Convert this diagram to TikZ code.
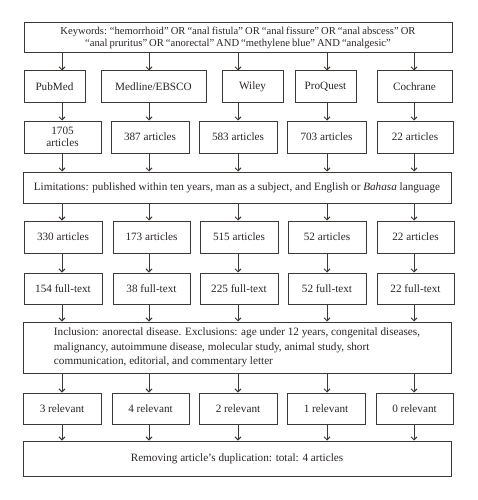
\documentclass[tikz,border=0pt]{standalone}
\usepackage{fontspec}
\setmainfont{Liberation Serif}
\usetikzlibrary{arrows.meta}
\definecolor{ln}{HTML}{3C3836}
\definecolor{tx}{HTML}{2A2625}
\newcommand{\kwfont}{\fontsize{10.6}{12}\selectfont\spaceskip=0.19em plus 0.05em\relax}
\tikzset{
  box/.style={draw=ln, line width=1pt, inner sep=0pt, text=tx, font=\fontsize{11.2}{12.5}\selectfont, align=center},
  arr/.style={draw=ln, line width=1pt, -{Straight Barb[length=3pt,width=6pt]}}
}
\newcommand{\bx}[6]{%
  \node[box, minimum width={(#4-#2)*1pt}, minimum height={(#5-#3)*1pt}] (#1) at ({(#2+#4)/2},{(#3+#5)/2}) {#6};}
\begin{document}
\begin{tikzpicture}[x=1pt,y=-1pt]
\useasboundingbox (0,0) rectangle (478,500);
% row 1
\node[box, font=\kwfont, minimum width=428pt, minimum height=30pt] (kw) at (238,38) {Keywords: “hemorrhoid” OR “anal fistula” OR “anal fissure” OR “anal abscess” OR\\“anal pruritus” OR “anorectal” AND “methylene blue” AND “analgesic”};
% row 2
\bx{db1}{24}{71}{85}{103}{PubMed}
\bx{db2}{101}{71}{206}{103}{Medline/EBSCO}
\bx{db3}{222}{71}{283}{103}{Wiley}
\bx{db4}{295}{71}{356}{103}{ProQuest}
\bx{db5}{377}{71}{452}{103}{Cochrane}
% row 3
\bx{a1}{24}{121}{101}{153}{1705\\articles}
\bx{a2}{111}{121}{189}{153}{387 articles}
\bx{a3}{199}{121}{277}{153}{583 articles}
\bx{a4}{287}{121}{366}{153}{703 articles}
\bx{a5}{377}{121}{453}{153}{22 articles}
% limitations
\bx{lim}{23}{172}{451}{203}{Limitations: published within ten years, man as a subject, and English or \emph{Bahasa} language}
% row 4
\bx{b1}{24}{221}{102}{253}{330 articles}
\bx{b2}{113}{221}{190}{253}{173 articles}
\bx{b3}{200}{221}{278}{253}{515 articles}
\bx{b4}{288}{221}{366}{253}{52 articles}
\bx{b5}{377}{221}{454}{253}{22 articles}
% row 5
\bx{c1}{24}{273}{102}{304}{154 full-text}
\bx{c2}{113}{273}{190}{304}{38 full-text}
\bx{c3}{200}{273}{278}{304}{225 full-text}
\bx{c4}{288}{273}{366}{304}{52 full-text}
\bx{c5}{377}{273}{454}{304}{22 full-text}
% inclusion
\node[box, font=\fontsize{11.2}{14.2}\selectfont, minimum width=428pt, minimum height=51pt, align=left] (inc) at (237,347.5) {Inclusion: anorectal disease. Exclusions: age under 12 years, congenital diseases,\\malignancy, autoimmune disease, molecular study, animal study, short\\communication, editorial, and commentary letter};
% relevant
\bx{r1}{23}{393}{101}{424}{3 relevant}
\bx{r2}{112}{393}{189}{424}{4 relevant}
\bx{r3}{199}{393}{277}{424}{2 relevant}
\bx{r4}{287}{393}{365}{424}{1 relevant}
\bx{r5}{376}{393}{453}{424}{0 relevant}
% final
\bx{fin}{23}{441}{451}{476}{Removing article’s duplication: total: 4 articles}
% arrows
\foreach \i/\x in {1/62,2/149,3/238,4/327,5/414}{
  \coordinate (col\i) at (\x,0);
  \draw[arr] (kw.south -| col\i) -- (db\i.north -| col\i);
  \draw[arr] (db\i.south -| col\i) -- (a\i.north -| col\i);
  \draw[arr] (a\i.south -| col\i) -- (lim.north -| col\i);
  \draw[arr] (lim.south -| col\i) -- (b\i.north -| col\i);
  \draw[arr] (b\i.south -| col\i) -- (c\i.north -| col\i);
  \draw[arr] (c\i.south -| col\i) -- (inc.north -| col\i);
  \draw[arr] (inc.south -| col\i) -- (r\i.north -| col\i);
  \draw[arr] (r\i.south -| col\i) -- (fin.north -| col\i);
}
\end{tikzpicture}
\end{document}
